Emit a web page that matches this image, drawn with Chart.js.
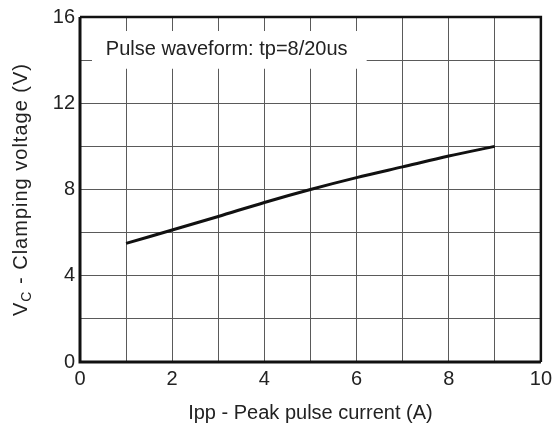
<!DOCTYPE html>
<html>
<head>
<meta charset="utf-8">
<script src="https://cdn.jsdelivr.net/npm/chart.js@4/dist/chart.umd.min.js"></script>
<style>
html,body{margin:0;padding:0;background:#fff;}
#wrap{width:557px;height:430px;position:relative;}
</style>
</head>
<body>
<div id="wrap"><canvas id="c" width="557" height="430"></canvas></div>
<script>
const currentA = [1, 2, 3, 4, 5, 6, 7, 8, 9];
const clampV   = [5.5, 6.12, 6.75, 7.4, 8.0, 8.55, 9.05, 9.55, 10.0];
const xTickLabels = [0, 2, 4, 6, 8, 10];
const yTickLabels = [0, 4, 8, 12, 16];
const noteText = 'Pulse waveform: tp=8/20us';
const xTitle = 'Ipp - Peak pulse current (A)';
const yTitleMain = 'V';
const yTitleSub = 'C';
const yTitleRest = ' - Clamping voltage (V)';

const FONT = '"Liberation Sans", Arial, sans-serif';

const decor = {
  id: 'decor',
  beforeDatasetsDraw(chart) {
    const {ctx, scales:{x, y}} = chart;
    const x0 = x.getPixelForValue(0.26), x1 = x.getPixelForValue(6.22);
    const y0 = y.getPixelForValue(15.35), y1 = y.getPixelForValue(13.6);
    ctx.save();
    ctx.fillStyle = '#fff';
    ctx.fillRect(x0, y0, x1 - x0, y1 - y0);
    ctx.fillStyle = '#222';
    ctx.font = '20px ' + FONT;
    ctx.textBaseline = 'middle';
    ctx.textAlign = 'left';
    ctx.fillText(noteText, x.getPixelForValue(0.56), y.getPixelForValue(14.5));
    ctx.restore();
  },
  afterDraw(chart) {
    const {ctx, chartArea:a} = chart;
    ctx.save();
    ctx.strokeStyle = '#111';
    ctx.lineWidth = 3;
    ctx.beginPath();
    ctx.moveTo(a.left, a.top); ctx.lineTo(a.left, a.bottom); ctx.lineTo(a.right, a.bottom);
    ctx.stroke();
    ctx.lineWidth = 2.5;
    ctx.beginPath();
    ctx.moveTo(a.left, a.top); ctx.lineTo(a.right, a.top); ctx.lineTo(a.right, a.bottom);
    ctx.stroke();
    // x title
    ctx.fillStyle = '#222';
    ctx.font = '20px ' + FONT;
    ctx.textAlign = 'center';
    ctx.textBaseline = 'middle';
    ctx.fillText(xTitle, (a.left + a.right) / 2, 413);
    // y title with subscript
    ctx.letterSpacing = '1px';
    const mainF = '20px ' + FONT, subF = '14px ' + FONT;
    ctx.font = mainF; const w1 = ctx.measureText(yTitleMain).width;
    ctx.font = subF; const w2 = ctx.measureText(yTitleSub).width;
    ctx.font = mainF; const w3 = ctx.measureText(yTitleRest).width;
    const total = w1 + w2 + w3;
    ctx.translate(21, (a.top + a.bottom) / 2);
    ctx.rotate(-Math.PI / 2);
    ctx.textAlign = 'left';
    let px = -total / 2;
    ctx.font = mainF; ctx.fillText(yTitleMain, px, 0); px += w1;
    ctx.font = subF; ctx.fillText(yTitleSub, px, 6); px += w2;
    ctx.font = mainF; ctx.fillText(yTitleRest, px, 0);
    ctx.restore();
  }
};

new Chart(document.getElementById('c'), {
  type: 'line',
  data: {
    datasets: [{
      data: currentA.map((v, i) => ({x: v, y: clampV[i]})),
      borderColor: '#111',
      borderWidth: 3,
      pointRadius: 0,
      tension: 0.3,
      fill: false
    }]
  },
  options: {
    responsive: false,
    animation: false,
    layout: {padding: {top: 16, right: 14, left: 0, bottom: 0}},
    plugins: {legend: {display: false}, tooltip: {enabled: false}},
    scales: {
      x: {
        type: 'linear', min: 0, max: 10,
        ticks: {
          stepSize: 1, autoSkip: false, maxRotation: 0,
          color: '#222', font: {family: FONT, size: 20}, padding: 5,
          callback: v => xTickLabels.includes(v) ? String(v) : ''
        },
        grid: {color: '#5a5a5a', lineWidth: 1, drawTicks: false},
        border: {display: false},
        afterFit: s => { s.height = 68; }
      },
      y: {
        type: 'linear', min: 0, max: 16,
        ticks: {
          stepSize: 2, autoSkip: false,
          color: '#222', font: {family: FONT, size: 20}, padding: 5,
          callback: v => yTickLabels.includes(v) ? String(v) : ''
        },
        grid: {color: '#5a5a5a', lineWidth: 1, drawTicks: false},
        border: {display: false},
        afterFit: s => { s.width = 80; }
      }
    }
  },
  plugins: [decor]
});
</script>
</body>
</html>
